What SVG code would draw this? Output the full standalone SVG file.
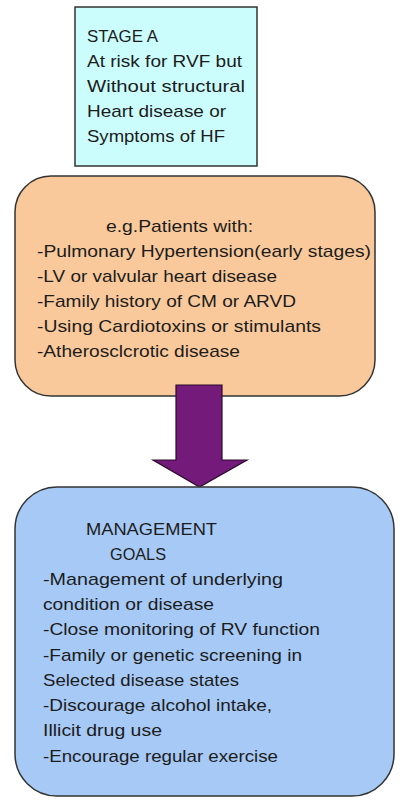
<svg xmlns="http://www.w3.org/2000/svg" width="412" height="808" viewBox="0 0 412 808">
<style>
text{font-family:"Liberation Sans",Arial,sans-serif;font-size:17px;fill:#1c1c1c}
.box{stroke:#333;stroke-width:1.5}
</style>
<rect width="412" height="808" fill="#fff"/>
<g id="stageA">
<rect class="box" x="75" y="7" width="182" height="159" fill="#ccfdfd"/>
<text x="87" y="42" textLength="71" lengthAdjust="spacingAndGlyphs">STAGE A</text>
<text x="87" y="67" textLength="155" lengthAdjust="spacingAndGlyphs">At risk for RVF but</text>
<text x="87" y="92" textLength="158" lengthAdjust="spacingAndGlyphs">Without structural</text>
<text x="87" y="117" textLength="139" lengthAdjust="spacingAndGlyphs">Heart disease or</text>
<text x="87" y="142" textLength="138" lengthAdjust="spacingAndGlyphs">Symptoms of HF</text>
</g>
<g id="patients">
<rect class="box" x="15" y="176" width="360" height="220" rx="36" ry="36" fill="#f9c99b"/>
<text x="106" y="232" textLength="147" lengthAdjust="spacingAndGlyphs">e.g.Patients with:</text>
<text x="37" y="257" textLength="334" lengthAdjust="spacingAndGlyphs">-Pulmonary Hypertension(early stages)</text>
<text x="37" y="282" textLength="240" lengthAdjust="spacingAndGlyphs">-LV or valvular heart disease</text>
<text x="37" y="307" textLength="259" lengthAdjust="spacingAndGlyphs">-Family history of CM or ARVD</text>
<text x="37" y="332" textLength="284" lengthAdjust="spacingAndGlyphs">-Using Cardiotoxins or stimulants</text>
<text x="37" y="357" textLength="203" lengthAdjust="spacingAndGlyphs">-Atherosclcrotic disease</text>
</g>
<g id="connectors">
<path d="M176,385 H222 V460 H247 L199.5,487 L153,460 H176 Z" fill="#731a7a" stroke="#2a0a2c" stroke-width="1.2"/>
</g>
<g id="management">
<rect class="box" x="15" y="487" width="379" height="309" rx="42" ry="42" fill="#a6c9f5"/>
<text x="86" y="535" textLength="131" lengthAdjust="spacingAndGlyphs">MANAGEMENT</text>
<text x="110" y="560" textLength="56" lengthAdjust="spacingAndGlyphs">GOALS</text>
<text x="43" y="585" textLength="240" lengthAdjust="spacingAndGlyphs">-Management of underlying</text>
<text x="43" y="610" textLength="171" lengthAdjust="spacingAndGlyphs">condition or disease</text>
<text x="43" y="635" textLength="277" lengthAdjust="spacingAndGlyphs">-Close monitoring of RV function</text>
<text x="43" y="661" textLength="259" lengthAdjust="spacingAndGlyphs">-Family or genetic screening in</text>
<text x="43" y="686" textLength="196" lengthAdjust="spacingAndGlyphs">Selected disease states</text>
<text x="43" y="711" textLength="229" lengthAdjust="spacingAndGlyphs">-Discourage alcohol intake,</text>
<text x="43" y="736" textLength="119" lengthAdjust="spacingAndGlyphs">Illicit drug use</text>
<text x="43" y="762" textLength="235" lengthAdjust="spacingAndGlyphs">-Encourage regular exercise</text>
</g>
</svg>
